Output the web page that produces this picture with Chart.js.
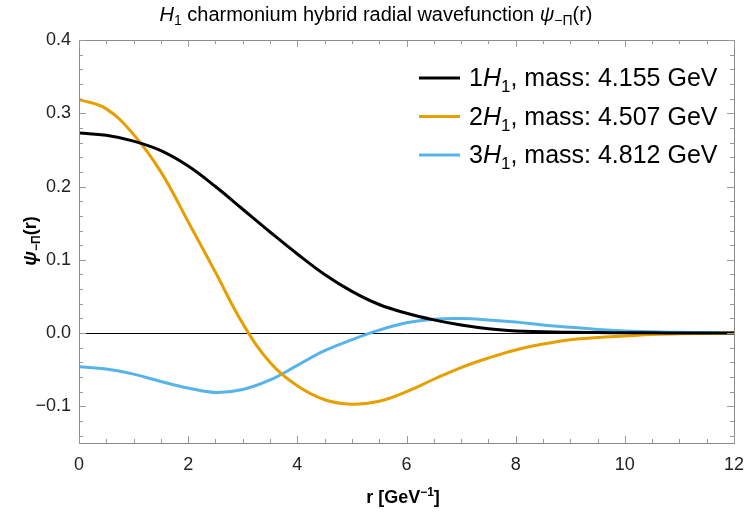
<!DOCTYPE html>
<html>
<head>
<meta charset="utf-8">
<script src="https://cdn.jsdelivr.net/npm/chart.js@4.4.1/dist/chart.umd.min.js"></script>
<style>
  html, body { margin: 0; padding: 0; background: #fff; }
  #wrap { width: 747px; height: 515px; }
</style>
</head>
<body>
<div id="wrap"><canvas id="grafico"></canvas></div>
<script>
// r values (GeV^-1) and the three radial wavefunctions
const r = [0, 0.5, 1, 1.5, 2, 2.5, 3, 3.5, 4, 4.5, 5, 5.5, 6, 6.5, 7, 7.5, 8, 8.5, 9, 9.5, 10, 10.5, 11, 12];
const psi1 = [0.273, 0.270, 0.262, 0.249, 0.228, 0.200, 0.169, 0.138, 0.108, 0.080, 0.057, 0.039, 0.027, 0.018, 0.011, 0.006, 0.003, 0.002, 0.001, 0.0007, 0.0005, 0.0003, 0.0002, 0];
const psi2 = [0.319, 0.306, 0.271, 0.220, 0.152, 0.083, 0.013, -0.040, -0.072, -0.091, -0.097, -0.093, -0.080, -0.063, -0.047, -0.034, -0.023, -0.015, -0.009, -0.006, -0.004, -0.002, -0.001, 0];
const psi3 = [-0.046, -0.049, -0.056, -0.066, -0.075, -0.081, -0.077, -0.064, -0.044, -0.024, -0.009, 0.004, 0.014, 0.019, 0.020, 0.018, 0.015, 0.011, 0.008, 0.005, 0.003, 0.002, 0.001, 0];

const estados = ["1", "2", "3"];
const massas = ["4.155", "4.507", "4.812"];
const cores = ["#000000", "#E69F00", "#56B4E9"];

const xTicks = [0, 2, 4, 6, 8, 10, 12];
const yTicks = [-0.1, 0, 0.1, 0.2, 0.3, 0.4];

const FONT = "'Liberation Sans', Arial, sans-serif";

// draws a list of text pieces one after another; pieces: {t, f, dy}
function richText(ctx, pieces, x, y, align) {
    let total = 0;
    pieces.forEach(p => { ctx.font = p.f; total += ctx.measureText(p.t).width; });
    let cx = align === "center" ? x - total / 2 : (align === "right" ? x - total : x);
    ctx.textAlign = "left";
    ctx.textBaseline = "alphabetic";
    pieces.forEach(p => {
        ctx.font = p.f;
        ctx.fillText(p.t, cx, y + (p.dy || 0));
        cx += ctx.measureText(p.t).width;
    });
}

const pluginMoldura = {
    id: "moldura",
    beforeDatasetsDraw(chart) {
        const { ctx, chartArea: a, scales } = chart;
        const y0 = scales.y.getPixelForValue(0);
        ctx.save();
        ctx.strokeStyle = "#000";
        ctx.lineWidth = 1;
        ctx.beginPath();
        ctx.moveTo(a.left, Math.round(y0) + 0.5);
        ctx.lineTo(a.right, Math.round(y0) + 0.5);
        ctx.stroke();
        ctx.restore();
    },
    afterDraw(chart) {
        const { ctx, chartArea: a, scales } = chart;
        ctx.save();
        // frame
        ctx.strokeStyle = "#8a8a8a";
        ctx.lineWidth = 1;
        ctx.strokeRect(Math.round(a.left) + 0.5, Math.round(a.top) + 0.5,
            Math.round(a.right - a.left), Math.round(a.bottom - a.top));

        // ticks pointing inward on all four sides
        ctx.strokeStyle = "#9a9a9a";
        ctx.beginPath();
        for (let i = 0; i <= 24; i++) {
            const px = Math.round(scales.x.getPixelForValue(i * 0.5)) + 0.5;
            const len = (i % 4 === 0) ? 7 : 4;
            ctx.moveTo(px, a.bottom); ctx.lineTo(px, a.bottom - len);
            ctx.moveTo(px, a.top); ctx.lineTo(px, a.top + len);
        }
        for (let i = -7; i <= 20; i++) {
            const py = Math.round(scales.y.getPixelForValue(i * 0.02)) + 0.5;
            const len = (i % 5 === 0) ? 7 : 4;
            ctx.moveTo(a.left, py); ctx.lineTo(a.left + len, py);
            ctx.moveTo(a.right, py); ctx.lineTo(a.right - len, py);
        }
        ctx.stroke();

        ctx.fillStyle = "#000";
        // title
        richText(ctx, [
            { t: "H", f: "italic 20px " + FONT },
            { t: "1", f: "14px " + FONT, dy: 4 },
            { t: " charmonium hybrid radial wavefunction ", f: "20px " + FONT },
            { t: "\u03C8", f: "italic 20px " + FONT },
            { t: "\u2212\u03A0", f: "14px " + FONT, dy: 4 },
            { t: "(r)", f: "20px " + FONT }
        ], 376, 21, "center");

        // x axis title
        richText(ctx, [
            { t: "r [GeV", f: "bold 18px " + FONT },
            { t: "\u22121", f: "bold 12px " + FONT, dy: -7 },
            { t: "]", f: "bold 18px " + FONT }
        ], 403, 503, "center");

        // y axis title
        ctx.save();
        ctx.translate(36, 241);
        ctx.rotate(-Math.PI / 2);
        richText(ctx, [
            { t: "\u03C8", f: "bold italic 19px " + FONT },
            { t: "\u2212\u03A0", f: "bold 12px " + FONT, dy: 4 },
            { t: "(r)", f: "bold 18px " + FONT }
        ], 0, 0, "center");
        ctx.restore();

        // legend
        estados.forEach((n, i) => {
            const yy = 78 + i * 38.5;
            ctx.strokeStyle = cores[i];
            ctx.lineWidth = 3;
            ctx.beginPath();
            ctx.moveTo(419, yy);
            ctx.lineTo(460, yy);
            ctx.stroke();
            ctx.fillStyle = "#000";
            richText(ctx, [
                { t: n, f: "25px " + FONT },
                { t: "H", f: "italic 25px " + FONT },
                { t: "1", f: "17px " + FONT, dy: 6 },
                { t: ", mass: " + massas[i] + " GeV", f: "25px " + FONT }
            ], 469, yy + 8, "left");
        });
        ctx.restore();
    }
};

const serie = ys => r.map((x, i) => ({ x: x, y: ys[i] }));

new Chart(document.getElementById("grafico"), {
    type: "line",
    data: {
        datasets: [psi1, psi2, psi3].map((d, i) => ({
            label: estados[i] + "H1",
            data: serie(d),
            borderColor: cores[i],
            borderWidth: 3,
            pointRadius: 0,
            fill: false,
            tension: 0.4
        }))
    },
    options: {
        responsive: true,
        maintainAspectRatio: false,
        animation: false,
        layout: { padding: { top: 40, right: 13, left: 0, bottom: 0 } },
        plugins: { legend: { display: false }, title: { display: false }, tooltip: { enabled: false } },
        scales: {
            x: {
                type: "linear",
                min: 0, max: 12,
                afterBuildTicks: s => { s.ticks = xTicks.map(v => ({ value: v })); },
                afterFit: s => { s.height = 72; s.paddingLeft = 0; s.paddingRight = 0; },
                grid: { display: false, drawTicks: false },
                border: { display: false },
                ticks: { color: "#222", font: { family: FONT, size: 18 }, padding: 11, maxRotation: 0 }
            },
            y: {
                min: -0.15, max: 0.4,
                afterBuildTicks: s => { s.ticks = yTicks.map(v => ({ value: v })); },
                afterFit: s => { s.width = 79; s.paddingTop = 0; s.paddingBottom = 0; },
                grid: { display: false, drawTicks: false },
                border: { display: false },
                ticks: {
                    color: "#222", font: { family: FONT, size: 18 }, padding: 8,
                    callback: v => (Math.abs(v) < 1e-9 ? "0.0" : v.toFixed(1).replace("-", "\u2212"))
                }
            }
        }
    },
    plugins: [pluginMoldura]
});
</script>
</body>
</html>
